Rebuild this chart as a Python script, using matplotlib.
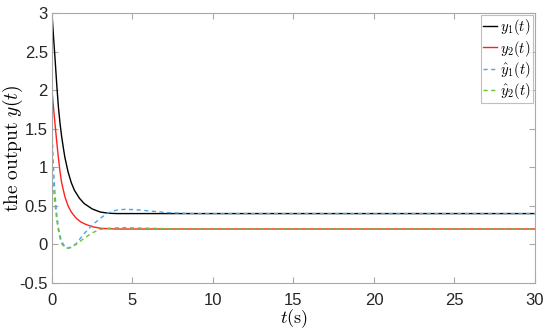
import numpy as np
import matplotlib
matplotlib.use("Agg")
import matplotlib.pyplot as plt

plt.rcParams['mathtext.fontset'] = 'cm'
plt.rcParams['font.family'] = ['Liberation Sans', 'DejaVu Sans']

# y1(t): black solid
t_y1 = [0, 0.1, 0.2, 0.3, 0.4, 0.5, 0.6, 0.7, 0.8, 1.0, 1.2, 1.4, 1.7, 2.0, 2.5, 3.0, 3.5, 4.0, 30]
y1 = [3.0, 2.68, 2.38, 2.06, 1.78, 1.57, 1.40, 1.26, 1.13, 0.94, 0.80, 0.70, 0.60, 0.53, 0.46, 0.42, 0.405, 0.40, 0.40]

# y2(t): red solid
t_y2 = [0, 0.1, 0.2, 0.3, 0.4, 0.5, 0.6, 0.8, 1.0, 1.2, 1.5, 1.8, 2.1, 2.5, 3.0, 3.5, 4.0, 30]
y2 = [2.0, 1.76, 1.54, 1.32, 1.12, 0.94, 0.80, 0.62, 0.50, 0.42, 0.34, 0.29, 0.26, 0.23, 0.21, 0.203, 0.20, 0.20]

# estimated yhat1(t): blue dashed
t_h1 = [0, 0.05, 0.1, 0.15, 0.2, 0.3, 0.4, 0.5, 0.6, 0.8, 1.0, 1.2, 1.5, 2.0, 2.5, 3.0, 3.5,
        4.0, 4.5, 5.0, 5.5, 6.0, 7.0, 8.0, 9.0, 30]
h1 = [1.5, 1.22, 0.97, 0.78, 0.62, 0.38, 0.22, 0.11, 0.04, -0.03, -0.05, -0.04, 0.01, 0.14, 0.25, 0.34, 0.41,
      0.445, 0.455, 0.452, 0.445, 0.435, 0.415, 0.405, 0.40, 0.40]

# estimated yhat2(t): green dashed
t_h2 = [0, 0.05, 0.1, 0.15, 0.2, 0.3, 0.4, 0.5, 0.6, 0.8, 0.9, 1.0, 1.2, 1.5, 2.0, 2.5, 3.0, 3.5,
        4.0, 4.5, 5.0, 6.0, 7.0, 8.0, 30]
h2 = [1.0, 0.85, 0.72, 0.60, 0.49, 0.31, 0.18, 0.08, 0.01, -0.04, -0.05, -0.045, -0.03, 0.0, 0.08, 0.15, 0.195, 0.21,
      0.215, 0.218, 0.215, 0.21, 0.205, 0.20, 0.20]

fig = plt.figure(figsize=(5.5, 3.34), dpi=100)
ax = fig.add_axes([0.0945, 0.1527, 0.8782, 0.8083])

ax.plot(t_y1, y1, color='black', lw=1.0, label=r'$y_1(t)$')
ax.plot(t_y2, y2, color='#ff2020', lw=1.0, label=r'$y_2(t)$')
ax.plot(t_h1, h1, color='#4aa6e6', lw=1.0, ls=(0, (3, 2.5)), label=r'$\hat{y}_1(t)$')
ax.plot(t_h2, h2, color='#6cc434', lw=1.0, ls=(0, (3, 2.5)), label=r'$\hat{y}_2(t)$')

ax.set_xlim(0, 30)
ax.set_ylim(-0.5, 3)
ax.set_xticks(np.arange(0, 31, 5))
ax.set_yticks(np.arange(-0.5, 3.01, 0.5))
ax.set_yticklabels(['-0.5', '0', '0.5', '1', '1.5', '2', '2.5', '3'])

for s in ax.spines.values():
    s.set_color('#a8a8a8')
    s.set_linewidth(0.8)
ax.tick_params(direction='in', top=True, right=True, color='#a8a8a8',
               labelcolor='#262626', labelsize=12, length=4)
ax.tick_params(axis='y', pad=3)
ax.tick_params(axis='x', pad=7)

ax.set_xlabel(r'$t(\mathrm{s})$', fontsize=13, labelpad=0)
ax.set_ylabel(r'$\mathrm{the\ output}\ y(t)$', fontsize=14)
ax.yaxis.set_label_coords(-0.056, 0.5)

leg = ax.legend(loc='upper right', fontsize=10.5, handlelength=1.0, handletextpad=0.15,
                labelspacing=0.08, borderpad=0.15, borderaxespad=0.15, fancybox=False)
leg.get_frame().set_edgecolor('#b0b0b0')
leg.get_frame().set_linewidth(0.8)

fig.savefig('out.png', dpi=100)
